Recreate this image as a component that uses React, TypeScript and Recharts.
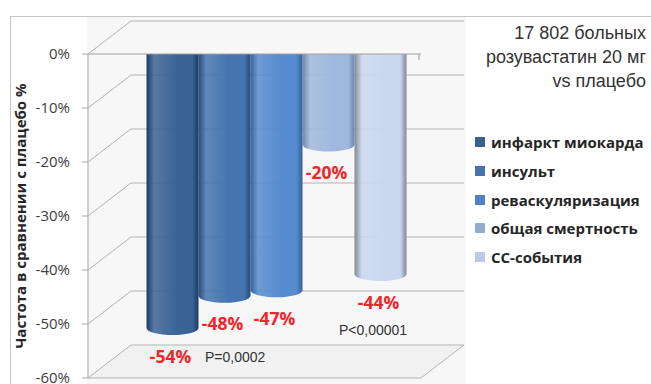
import React from 'react';
import { BarChart, Bar, XAxis, YAxis, CartesianGrid, Legend, LabelList, ReferenceLine } from 'recharts';

const seriesNames = ['инфаркт миокарда', 'инсульт', 'реваскуляризация', 'общая смертность', 'СС-события'];
const seriesValues = [-54, -48, -47, -20, -44];
const yTicks = [0, -10, -20, -30, -40, -50, -60];
const titleLines = ['17 802 больных', 'розувастатин 20 мг', 'vs плацебо'];
const pNotes = ['P=0,0002', 'P<0,00001'];

const legendColors = ['#3b6192', '#4472aa', '#4f82c4', '#93abd5', '#bccae6'];
// edge, light, cap
const shades = [
  ['#1d3a5f', '#3a6396', '#2b5080'],
  ['#264a78', '#4574ae', '#335c8f'],
  ['#35619a', '#568bcf', '#3e6aa4'],
  ['#6c84aa', '#a0b8de', '#7b90b6'],
  ['#7e8796', '#cad7ef', '#8e98ab'],
];

const W = 651;
const H = 384;
const margin = { top: 54, right: 230, bottom: 6, left: 0 };
const DX = 43;
const DY = 33;
const GRID = '#b4b4b4';

const row: Record<string, any> = { name: '' };
seriesNames.forEach((n, i) => { row[`s${i}`] = seriesValues[i]; });
const data = [row];

function Cylinder(p: any) {
  const { x, y, width, height, s } = p;
  const top = Math.min(y, y + height);
  const bot = Math.max(y, y + height);
  const cx = x + width / 2 + DX / 2;
  const rx = width / 2;
  const ry = 7;
  const yt = top - DY / 2 - 1;
  const yb = bot - DY / 2 - 1;
  const [edge, light, cap] = shades[s];
  const id = `cyl-${s}`;
  return (
    <g>
      <defs>
        <linearGradient id={id} x1="0" y1="0" x2="1" y2="0">
          <stop offset="0" stopColor={edge} />
          <stop offset="0.15" stopColor={light} stopOpacity={0.85} />
          <stop offset="0.6" stopColor={light} />
          <stop offset="0.88" stopColor={light} />
          <stop offset="1" stopColor={edge} />
        </linearGradient>
      </defs>
      <path
        d={`M${cx - rx},${yt} L${cx - rx},${yb} A${rx},${ry} 0 0 0 ${cx + rx},${yb} L${cx + rx},${yt} Z`}
        fill={`url(#${id})`}
      />
      <ellipse cx={cx} cy={yt} rx={rx} ry={ry} fill={cap} />
    </g>
  );
}

const gridLine = (p: any) => {
  const { x1, x2, y1 } = p;
  const isFloor = y1 >= H - margin.bottom - 0.5;
  return (
    <g key={p.key}>
      {isFloor && (
        <polygon points={`${x1},${y1} ${x2},${y1} ${x2 + DX},${y1 - DY} ${x1 + DX},${y1 - DY}`} fill="#f1f1f1" />
      )}
      <line x1={x1} y1={y1} x2={x1 + DX} y2={y1 - DY} stroke={GRID} />
      <line x1={x1 + DX} y1={y1 - DY} x2={x2 + DX} y2={y1 - DY} stroke={GRID} />
      {isFloor && <line x1={x1} y1={y1} x2={x2} y2={y1} stroke={GRID} />}
      {isFloor && <line x1={x2} y1={y1} x2={x2 + DX} y2={y1 - DY} stroke={GRID} />}
      {y1 <= margin.top + 0.5 && <line x1={x2 - 2} y1={y1} x2={x2 - 2} y2={y1 + 6} stroke="#999" />}
    </g>
  );
};

const redLabel = (p: any) => {
  const vb = p.viewBox || p;
  const bot = Math.max(vb.y, vb.y + vb.height);
  return (
    <text
      x={vb.x + vb.width / 2 + DX / 2 - 2}
      y={bot + 10}
      textAnchor="middle"
      dominantBaseline="central"
      fill="#ef2529"
      fontSize={17.5}
      fontWeight="bold"
      fontFamily="Open Sans"
    >
      {`${p.value}%`}
    </text>
  );
};

const yLabel = (p: any) => {
  const vb = p.viewBox;
  const cy = vb.y + vb.height / 2;
  return (
    <text
      transform={`translate(${vb.x + 20},${cy}) rotate(-90)`}
      textAnchor="middle"
      dominantBaseline="central"
      fontSize={15}
      fontWeight="bold"
      fontFamily="Open Sans"
      fill="#262626"
    >
      Частота в сравнении с плацебо %
    </text>
  );
};

const renderLegend = (p: any) => {
  const items = [...(p.payload || [])].sort(
    (a: any, b: any) => seriesNames.indexOf(a.value) - seriesNames.indexOf(b.value),
  );
  return (
    <div>
      {items.map((e: any, i: number) => (
        <div key={i} style={{ display: 'flex', alignItems: 'center', height: 28.7 }}>
          <span style={{ width: 10, height: 10, background: e.color, marginRight: 6, flex: 'none' }} />
          <span style={{ fontFamily: 'Open Sans', fontWeight: 'bold', fontSize: 15, color: '#262626', whiteSpace: 'nowrap' }}>
            {e.value}
          </span>
        </div>
      ))}
    </div>
  );
};

export default function App() {
  return (
    <div style={{ position: 'absolute', left: 0, top: 0, width: W, height: H, overflow: 'hidden', background: '#fff' }}>
      <div style={{ position: 'absolute', left: 87, top: 17, width: 379, height: 367, background: '#f7f7f7' }} />
      <div
        style={{
          position: 'absolute', left: 10, top: 16, width: 641, height: 368,
          borderTop: '1px solid #c6c6c6', borderLeft: '1px solid #c6c6c6', boxSizing: 'border-box',
        }}
      />
      <div style={{ position: 'absolute', left: 0, top: 0 }}>
        <BarChart width={W} height={H} data={data} margin={margin} barCategoryGap={37} barGap={0}>
          <CartesianGrid vertical={false} horizontal={gridLine} />
          <XAxis dataKey="name" hide />
          <YAxis
            width={88}
            domain={[-60, 0]}
            ticks={yTicks}
            interval={0}
            allowDataOverflow
            tickFormatter={(v) => `${v}%`}
            tickSize={6}
            tickMargin={12}
            axisLine={{ stroke: '#a6a6a6' }}
            tickLine={{ stroke: '#a6a6a6' }}
            tick={{ fill: '#404040', fontSize: 15, fontFamily: 'Open Sans' }}
            label={{ content: yLabel }}
          />
          {seriesNames.map((n, i) => (
            <Bar
              key={n}
              dataKey={`s${i}`}
              name={n}
              fill={legendColors[i]}
              isAnimationActive={false}
              shape={(p: any) => <Cylinder {...p} s={i} />}
            >
              <LabelList dataKey={`s${i}`} content={redLabel} />
            </Bar>
          ))}
          <ReferenceLine y={0} stroke="#a0a0a0" ifOverflow="visible" />
          <Legend
            layout="vertical"
            align="center"
            verticalAlign="middle"
            content={renderLegend}
            wrapperStyle={{ position: 'absolute', left: 475, top: 128, width: 176 }}
          />
        </BarChart>
      </div>
      <div
        style={{
          position: 'absolute', right: 5, top: 21, textAlign: 'right',
          fontFamily: 'Liberation Sans', fontSize: 18, lineHeight: '24px', color: '#333',
        }}
      >
        {titleLines.map((t) => <div key={t}>{t}</div>)}
      </div>
      <div style={{ position: 'absolute', left: 205, top: 349, fontFamily: 'Liberation Sans', fontSize: 14, color: '#333' }}>
        {pNotes[0]}
      </div>
      <div style={{ position: 'absolute', left: 339, top: 322, fontFamily: 'Liberation Sans', fontSize: 14, color: '#333' }}>
        {pNotes[1]}
      </div>
    </div>
  );
}
